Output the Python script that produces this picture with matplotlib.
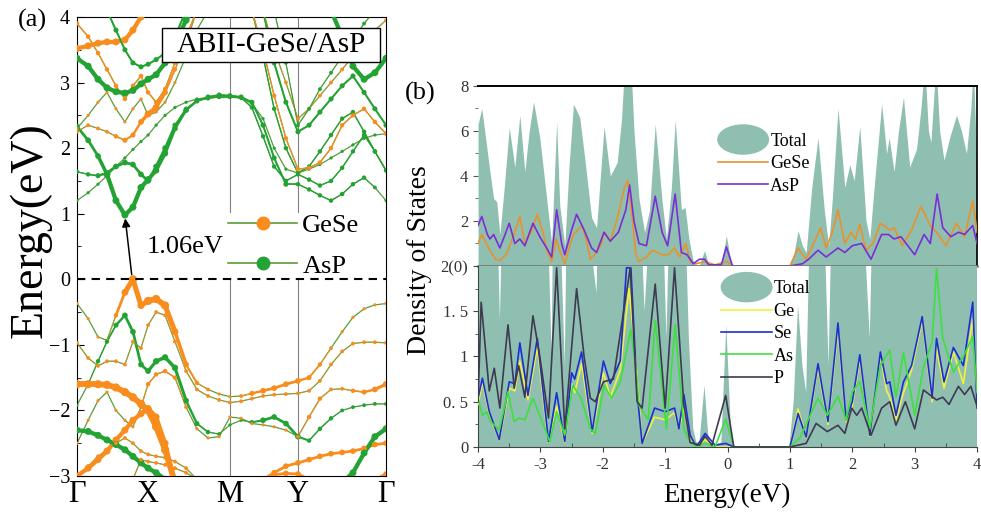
import numpy as np
import matplotlib
matplotlib.use("Agg")
import matplotlib.pyplot as plt
import matplotlib.patches as mpatches
from matplotlib.lines import Line2D
from matplotlib.collections import LineCollection
from matplotlib.legend_handler import HandlerPatch

plt.rcParams['font.family'] = ['Liberation Serif', 'DejaVu Serif']

# -----------------------------
# 1. BAND STRUCTURE DATA (k along G-X-M-Y-G, fraction of path)
# -----------------------------
K = [0.000, 0.036, 0.068, 0.097, 0.126, 0.155, 0.181, 0.207, 0.230, 0.256, 0.285,
     0.317, 0.353, 0.388, 0.424, 0.460, 0.495, 0.531, 0.566, 0.602, 0.638, 0.676,
     0.715, 0.751, 0.786, 0.822, 0.858, 0.893, 0.929, 0.964, 1.000]
K_TICKS = [0.0, 0.227, 0.495, 0.715, 1.0]
K_LABELS = ["Γ", "X", "M", "Y", "Γ"]
N = None

# valence bands
V1 = [-0.37, -0.6, -0.88, -0.93, -0.55, -0.2, 0.0, -0.4, -0.33, -0.3, -0.4, -0.8, -1.3, -1.58, -1.68,
      -1.75, -1.79, -1.78, -1.74, -1.7, -1.66, -1.6, -1.55, -1.5, -1.3, -1.05, -0.8, -0.58, -0.45, -0.39, -0.37]
W_V1 = [1, 1, 1, 1, 2, 4, 5, 4, 5, 5, 5, 4, 3, 2, 1.5, 1, 1, 1.5, 2.5, 3, 3, 3, 3, 2.5, 2, 1.5, 1, 1, 1, 1, 1]
V2 = [-1.92, -1.6, -1.25, -0.95, -0.7, -0.55, -0.8, -1.3, -1.4, -1.25, -1.19, -1.35, -1.85, -2.2, -2.33,
      -2.36, -2.22, -2.15, -2.18, -2.15, -2.1, -2.2, -2.4, -2.46, -2.28, -2.12, -2.0, -1.95, -1.92, -1.9, -1.9]
W_V2 = [1, 1.5, 2, 2, 2.5, 3, 3, 3, 3, 3.5, 3.5, 3.5, 3, 2.5, 2, 1.5, 1, 1, 2, 3, 3, 3, 3, 2, 2, 2, 1.5, 1.5, 1.5, 1.5, 1.5]
V3 = [-0.97, -1.2, -1.32, -1.25, -1.25, -1.3, -0.95, -1.05, -0.7, -0.5, -0.55, -0.95, -1.4, -1.68, -1.78,
      -1.84, -1.88, -1.86, -1.82, -1.78, -1.76, -1.75, -1.74, -1.7, -1.55, -1.3, -1.1, -0.98, -0.96, -0.96, -0.97]
V4 = [-2.5, -2.15, -1.85, -1.72, -2.0, -2.15, -2.25, -1.95, -1.6, -1.45, -1.4, -1.5, -1.95, -2.28, -2.42,
      -2.4, -2.1, -2.12, -2.2, -2.22, -2.25, -2.3, -2.4, -2.1, -1.82, -1.68, -1.67, -1.7, -1.72, -1.68, -1.6]
W_V4 = [1, 1, 1, 1, 1, 1, 1, 1.5, 2, 2, 2, 2, 1.5, 1, 1, 1, 1, 1, 1, 1, 1, 1, 1.5, 2, 2, 1.5, 1.5, 2, 2.5, 3, 3.5]
V5 = [-1.6, -1.6, -1.6, -1.61, -1.65, -1.72, -1.8, -1.9, -2.0, -2.25, -2.6, -3.1]
V6 = [-3.0, -2.88, -2.75, -2.62, -2.45, -2.3, -2.15, -2.05, -1.97, -2.1, -2.5, -3.1]
V7 = [-2.3, -2.32, -2.38, -2.45, -2.52, -2.6, -2.7, -2.8, -2.88, -2.95, -3.05]
V8 = [-3.05, -2.85, -2.7, -2.6, -2.5, -2.42, -2.5, -2.62, -2.67, -2.7, -2.72, -2.78, -2.88, -3.05]
V9 = [N] * 6 + [-3.05, -2.75, -2.78, -2.8, -2.83, -2.88, -2.95, -3.05]
V10 = [N] * 19 + [-3.05, -2.95, -2.85, -2.8, -2.75, -2.7, -2.66, -2.64, -2.62, -2.58, -2.52, -2.5]
V11 = [N] * 19 + [-3.05, -2.98, -2.96, -2.97, -3.05]
V12 = [N] * 29 + [-3.05, -2.97]
V13 = [N] * 26 + [-3.1, -2.95, -2.65, -2.4, -2.28]

# conduction bands
C1 = [2.33, 2.12, 1.88, 1.6, 1.2, 0.98, 1.1, 1.4, 1.52, 1.66, 1.92, 2.3, 2.58, 2.72, 2.78, 2.81,
      2.8, 2.78, 2.7, 2.35, 1.85, 1.45, 1.45, 1.37, 1.28, 1.2, 1.3, 1.45, 1.55, 1.4, 1.2]
W_C1 = [3, 3, 3, 4, 4, 4, 4, 4, 4, 3.5, 3.5, 3, 3, 2.5, 2.5, 2.5, 2.5, 2.5, 2.5, 2.5, 2.5, 2.5,
        2, 2, 2, 2, 2, 2, 2, 1.5, 1]
C2 = [1.64, 1.6, 1.58, 1.62, 1.72, 1.78, 1.75, 1.6, 1.5, 1.72, 2.0, 2.35, 2.6, 2.72, 2.76, 2.78,
      2.78, 2.77, 2.62, 2.18, 1.72, 1.5, 1.6, 1.52, 1.43, 1.5, 1.7, 1.95, 2.2, 1.95, 1.66]
W_C2 = [2, 2, 2.5, 3, 3, 3, 3, 3, 3, 3, 3, 2.5, 2, 2, 2, 2, 2, 2, 2, 2, 2, 2, 2, 2, 2, 2, 2, 2, 2, 2, 1.5]
C3 = [1.2, 1.32, 1.45, 1.58, 1.72, 1.85, 1.98, 2.1, 2.2, 2.35, 2.5, 2.62, 2.7, 2.75, 2.77, 2.79,
      2.78, 2.76, 2.68, 2.45, 2.0, 1.68, 1.62, 1.68, 1.75, 1.85, 1.95, 2.05, 2.15, 2.2, 2.22]
C4 = [2.25, 2.35, 2.3, 2.25, 2.18, 2.12, 2.2, 2.4, 2.52, 2.62, 2.85, 3.2, 3.6, 4.1]
W_C4 = [1.5, 1.5, 1.5, 1.5, 2, 2.5, 2.5, 3, 4, 4, 3, 2, 1.5, 1.5]
C5 = [3.9, 3.7, 3.45, 3.2, 2.95, 2.75, 2.95, 3.1, 2.85, 2.7, 2.9, 3.3, 3.7, 4.1]
C6 = [2.3, 2.5, 2.7, 2.85, 2.6, 2.4, 2.6, 2.75, 2.5, 2.55, 2.7, 3.0, 3.4, 3.8, 4.1]
C7 = [3.37, 3.25, 3.05, 2.92, 2.86, 2.84, 2.88, 2.98, 3.05, 3.12, 3.3, 3.6, 3.95, 4.2]
C8 = [3.52, 3.56, 3.6, 3.62, 3.62, 3.65, 3.8, 4.0, 4.1]
C9 = [N, N, N, 4.1, 3.8, 3.5, 3.3, 3.24, 3.28, 3.35, 3.45, 3.7, 4.1]
R1 = [N] * 18 + [4.1, 3.4, 2.6, 2.0, 1.62, 1.72, 1.95, 2.2, 2.45, 2.55, 2.25, 1.95, 1.66]
R2 = [N] * 18 + [4.1, 3.5, 2.8, 2.15, 1.68, 1.7, 1.78, 2.0, 2.35, 2.5, 2.6, 2.4, 2.22]
R3 = [N] * 19 + [4.1, 3.3, 2.7, 2.25, 2.35, 2.55, 2.75, 2.95, 3.1, 2.85, 2.6, 2.35]
R4 = [N] * 19 + [4.1, 3.5, 3.0, 2.45, 2.6, 2.8, 3.0, 3.2, 3.4, 3.6, 3.8, 3.95]
R5 = [N] * 20 + [4.1, 3.3, 2.35, 2.6, 2.9, 3.15, 3.4, 3.65, 3.9, 4.1]
R6 = [N] * 25 + [4.1, 3.7, 3.25, 3.05, 3.15, 3.37]

# (values, projection: 'o' = GeSe / 'g' = AsP, weight)
BANDS = [
    (V1, 'o', W_V1), (V2, 'g', W_V2), (V3, 'o', 1.5), (V4, 'o', W_V4), (V5, 'o', 5),
    (V6, 'o', 4), (V7, 'g', 4), (V8, 'o', 1.5), (V9, 'o', 1.5), (V10, 'o', 3),
    (V11, 'o', 3), (V12, 'o', 3), (V13, 'g', 4),
    (C1, 'g', W_C1), (C2, 'g', W_C2), (C3, 'g', 1), (C4, 'o', W_C4), (C5, 'o', 2),
    (C6, 'o', 1), (C7, 'g', 4), (C8, 'o', 4), (C9, 'g', 2.5),
    (R1, 'g', 2), (R2, 'o', 2), (R3, 'g', 2.5), (R4, 'o', 1.5), (R5, 'g', 1.5), (R6, 'g', 4),
]

# -----------------------------
# 2. DOS DATA
# -----------------------------
TOT_E = [-4.0, -3.94, -3.87, -3.81, -3.75, -3.70, -3.65, -3.58, -3.50, -3.41, -3.33, -3.25, -3.18,
         -3.11, -3.01, -2.90, -2.82, -2.74, -2.69, -2.61, -2.54, -2.47, -2.37, -2.29, -2.18, -2.10,
         -1.98, -1.88, -1.77, -1.70, -1.65, -1.55, -1.50, -1.42, -1.33, -1.25, -1.16, -1.05, -0.98,
         -0.90, -0.84, -0.74, -0.68, -0.62, -0.55, -0.50, -0.45, -0.37, -0.30, -0.20, -0.10, -0.02,
         0.06, 0.12, 0.50, 0.99, 1.06, 1.13, 1.20, 1.26, 1.35, 1.45, 1.55, 1.62, 1.68, 1.77, 1.88,
         1.96, 2.03, 2.12, 2.22, 2.28, 2.35, 2.47, 2.55, 2.59, 2.67, 2.74, 2.82, 2.92, 3.03, 3.10,
         3.16, 3.22, 3.26, 3.34, 3.40, 3.47, 3.57, 3.67, 3.75, 3.83, 3.90, 3.94, 4.0]
TOT_V = [6.3, 7.0, 5.5, 4.2, 3.0, 2.85, 1.4, 3.5, 6.15, 4.4, 6.7, 4.2, 6.0,
         7.3, 5.7, 3.0, 1.0, 6.4, 2.7, 0.9, 4.5, 7.2, 6.6, 4.8, 2.15, 1.7,
         6.2, 4.0, 4.6, 6.5, 9.0, 9.0, 6.0, 3.0, 1.5, 2.5, 6.3, 2.9, 1.2,
         3.5, 6.5, 2.5, 2.6, 1.2, 0.2, 0.05, 0.05, 0.68, 0.05, 0.02, 0.05, 1.35,
         0.1, 0.0, 0.0, 0.0, 0.5, 1.57, 0.9, 0.6, 3.5, 5.7, 2.5, 0.9, 3.0, 7.0, 3.5,
         4.5, 3.8, 6.2, 2.0, 1.2, 3.5, 7.2, 5.0, 5.7, 4.2, 6.0, 7.5, 4.4, 5.2, 7.0,
         9.0, 6.0, 5.5, 9.0, 6.0, 4.7, 5.8, 6.7, 6.0, 5.0, 7.0, 9.0, 4.0]

GESE_E = [-4.0, -3.94, -3.85, -3.81, -3.72, -3.65, -3.55, -3.45, -3.33, -3.25, -3.15, -3.05, -2.95,
          -2.9, -2.82, -2.75, -2.68, -2.61, -2.54, -2.47, -2.33, -2.25, -2.2, -2.1, -2.02, -1.98,
          -1.88, -1.78, -1.65, -1.6, -1.52, -1.47, -1.42, -1.3, -1.2, -1.05, -0.95, -0.85, -0.77,
          -0.67, -0.6, -0.5, -0.37, -0.2, -0.02, 0.1, 1.0, 1.13, 1.26, 1.38, 1.49, 1.58, 1.68,
          1.77, 1.88, 1.98, 2.05, 2.12, 2.22, 2.33, 2.45, 2.6, 2.67, 2.8, 2.95, 3.1, 3.25, 3.35,
          3.5, 3.67, 3.8, 3.93, 4.0]
GESE_V = [1.0, 1.4, 0.9, 0.7, 0.3, 0.25, 0.5, 1.2, 2.2, 1.0, 1.5, 2.3, 1.4,
          0.7, 0.2, 1.2, 0.6, 0.1, 0.8, 1.4, 1.8, 1.0, 0.3, 0.6, 1.0, 1.5,
          1.1, 2.0, 3.5, 3.8, 2.0, 0.5, 0.2, 0.4, 0.7, 0.5, 0.5, 0.8, 0.4,
          1.0, 0.2, 0.1, 0.2, 0.05, 0.2, 0.0, 0.0, 0.8, 0.3, 1.0, 1.7, 0.8, 1.5,
          2.5, 1.0, 1.5, 1.2, 1.85, 0.7, 1.0, 1.9, 1.6, 1.7, 0.9, 1.6, 2.65, 1.8, 1.5,
          0.9, 1.9, 1.3, 2.9, 1.5]

ASP_E = [-4.0, -3.94, -3.85, -3.81, -3.75, -3.65, -3.58, -3.5, -3.41, -3.33, -3.25, -3.12, -3.01,
         -2.9, -2.82, -2.74, -2.66, -2.61, -2.5, -2.42, -2.3, -2.18, -2.1, -1.98, -1.88, -1.75,
         -1.63, -1.57, -1.5, -1.42, -1.3, -1.16, -1.05, -0.96, -0.84, -0.74, -0.65, -0.55, -0.45,
         -0.37, -0.3, -0.1, -0.02, 0.08, 1.0, 1.2, 1.3, 1.45, 1.58, 1.77, 1.88, 2.0, 2.15, 2.3,
         2.47, 2.58, 2.67, 2.78, 3.0, 3.15, 3.25, 3.36, 3.45, 3.58, 3.7, 3.8, 3.93, 4.0]
ASP_V = [1.8, 2.2, 1.4, 1.2, 1.4, 0.8, 1.3, 1.9, 1.0, 1.2, 0.9, 1.9, 1.3,
         0.8, 0.4, 2.5, 1.0, 0.5, 1.6, 2.3, 1.6, 0.8, 0.6, 1.5, 1.1, 1.5,
         2.5, 3.6, 2.0, 1.0, 0.9, 3.1, 1.5, 0.9, 3.2, 0.6, 0.5, 0.1, 0.3,
         0.3, 0.05, 0.05, 0.85, 0.0, 0.0, 0.1, 0.3, 0.7, 0.4, 0.8, 0.6, 0.9, 1.0, 0.3,
         1.4, 1.4, 1.2, 1.3, 0.5, 1.4, 1.0, 3.2, 1.7, 1.3, 1.5, 1.4, 1.8, 1.0]

P_E = [-4.0, -3.95, -3.82, -3.74, -3.65, -3.52, -3.42, -3.35, -3.25, -3.12, -3.01, -2.87, -2.74,
       -2.61, -2.42, -2.3, -2.2, -2.12, -1.99, -1.83, -1.56, -1.45, -1.37, -1.16, -1.0, -0.85,
       -0.7, -0.6, -0.45, -0.36, -0.25, -0.03, 0.1, 1.0, 1.26, 1.42, 1.6, 1.77, 1.88, 1.99, 2.07,
       2.15, 2.3, 2.47, 2.6, 2.7, 2.85, 3.0, 3.14, 3.35, 3.45, 3.55, 3.7, 3.8, 3.9, 4.0]
P_V = [0.5, 1.6, 0.62, 0.87, 0.43, 1.35, 0.65, 0.9, 0.55, 1.45, 1.0, 0.32, 1.98,
       0.2, 1.75, 1.0, 0.54, 0.5, 0.72, 0.75, 1.98, 0.5, 0.43, 1.8, 0.43, 1.98,
       0.46, 0.05, 0.02, 0.12, 0.02, 0.57, 0.0, 0.0, 0.04, 0.26, 0.17, 0.24, 0.15, 0.43, 0.35,
       0.43, 0.13, 0.43, 0.5, 0.24, 0.5, 0.2, 0.63, 0.52, 0.55, 0.47, 0.67, 0.58, 0.67, 0.45]

SE_E = [-4.0, -3.93, -3.82, -3.66, -3.5, -3.41, -3.33, -3.2, -3.05, -2.95, -2.87, -2.74, -2.61,
        -2.5, -2.45, -2.34, -2.17, -1.99, -1.88, -1.72, -1.62, -1.55, -1.45, -1.37, -1.17, -1.0,
        -0.85, -0.78, -0.7, -0.6, -0.5, -0.36, -0.2, -0.03, 0.1, 1.0, 1.13, 1.26, 1.45, 1.61,
        1.77, 1.9, 2.0, 2.12, 2.28, 2.45, 2.55, 2.6, 2.7, 2.82, 2.95, 3.12, 3.28, 3.35, 3.47,
        3.62, 3.78, 3.93, 4.0]
SE_V = [0.54, 0.76, 0.39, 0.08, 0.72, 0.7, 1.15, 0.57, 1.2, 0.57, 0.06, 0.6, 0.06,
        0.82, 0.75, 1.05, 0.17, 0.95, 0.7, 0.95, 1.98, 1.98, 0.6, 0.04, 0.43, 0.39,
        0.43, 0.2, 0.58, 0.13, 0.0, 0.15, 0.02, 0.04, 0.0, 0.0, 0.37, 0.11, 0.92, 0.28,
        1.37, 0.3, 0.5, 1.02, 0.13, 1.05, 0.7, 0.72, 0.35, 0.72, 0.9, 1.44, 0.54, 1.2, 0.72,
        1.1, 0.9, 1.6, 0.43]

GE_E = [-4.0, -3.93, -3.82, -3.66, -3.5, -3.41, -3.33, -3.2, -3.05, -2.95, -2.87, -2.74, -2.61,
        -2.5, -2.45, -2.34, -2.17, -1.99, -1.88, -1.72, -1.58, -1.5, -1.42, -1.37, -1.17, -1.0,
        -0.85, -0.78, -0.7, -0.6, -0.5, -0.36, -0.2, 0.1, 1.0, 1.13, 1.26, 1.45, 1.61, 1.77,
        1.9, 2.0, 2.12, 2.28, 2.45, 2.55, 2.6, 2.7, 2.82, 2.95, 3.12, 3.28, 3.35, 3.47, 3.62,
        3.78, 3.93, 4.0]
GE_V = [0.47, 0.72, 0.36, 0.07, 0.65, 0.62, 0.95, 0.52, 1.1, 0.5, 0.05, 0.45, 0.05,
        0.7, 0.6, 0.92, 0.15, 0.82, 0.55, 0.85, 1.75, 1.2, 0.5, 0.04, 0.33, 0.3,
        0.38, 0.2, 0.42, 0.1, 0.0, 0.08, 0.0, 0.0, 0.0, 0.42, 0.1, 0.88, 0.25, 1.3,
        0.28, 0.45, 0.98, 0.12, 1.02, 0.62, 0.55, 0.3, 0.6, 0.85, 1.4, 0.5, 1.1, 0.65, 1.05,
        0.7, 1.42, 0.6]

AS_E = [-4.0, -3.93, -3.86, -3.8, -3.66, -3.52, -3.42, -3.34, -3.25, -3.12, -2.95, -2.85, -2.74,
        -2.61, -2.48, -2.35, -2.2, -2.12, -1.98, -1.86, -1.72, -1.55, -1.47, -1.42, -1.27, -1.16,
        -0.98, -0.84, -0.7, -0.6, -0.5, -0.36, -0.2, -0.03, 0.1, 1.0, 1.16, 1.45, 1.6, 1.77,
        1.9, 2.0, 2.12, 2.28, 2.45, 2.6, 2.7, 2.82, 3.0, 3.14, 3.28, 3.35, 3.45, 3.62, 3.78,
        3.93, 4.0]
AS_V = [0.54, 0.35, 0.39, 0.28, 0.19, 0.61, 0.28, 0.32, 0.3, 0.54, 0.24, 0.06, 0.39,
        0.13, 0.68, 0.54, 0.2, 0.15, 0.68, 0.54, 0.72, 1.3, 0.87, 0.46, 0.3, 1.4,
        0.2, 1.35, 0.2, 0.05, 0.0, 0.04, 0.0, 0.31, 0.0, 0.0, 0.1, 0.54, 0.35, 0.56,
        0.3, 0.61, 0.72, 0.2, 0.9, 1.07, 0.55, 1.04, 0.35, 0.88, 1.16, 1.97, 1.2, 0.83, 1.0,
        1.22, 0.6]

# -----------------------------
# 3. STYLE
# -----------------------------
ORANGE = "#f88c1c"
GREEN = "#22a334"
LINE = "#5a9c3a"
TEAL = "#8fbfb1"


class HandlerEllipse(HandlerPatch):
    def create_artists(self, legend, orig_handle, xdescent, ydescent, width, height, fontsize, trans):
        center = (0.5 * width - 0.5 * xdescent, 0.5 * height - 0.5 * ydescent)
        p = mpatches.Ellipse(xy=center, width=width + xdescent, height=height * 2.3)
        self.update_prop(p, orig_handle, legend)
        p.set_transform(trans)
        return [p]


fig = plt.figure(figsize=(9.81, 5.13), dpi=100)

# -----------------------------
# 4. PANEL (a): BANDS
# -----------------------------
axb = fig.add_axes([0.0785, 0.0721, 0.315, 0.8948])
k_all = np.array(K)
for vals, kind, w in BANDS:
    e = np.array([np.nan if v is None else v for v in vals], float)
    k = k_all[:len(e)]
    ww = np.array(w, float) * np.ones(len(e))
    col = ORANGE if kind == 'o' else GREEN
    axb.plot(k, e, color=LINE, lw=0.9, zorder=2)
    pts = np.column_stack([k, e])
    segs = np.stack([pts[:-1], pts[1:]], axis=1)
    lw = np.clip(0.5 * (ww[:-1] + ww[1:]) - 1.2, 0, None) * 1.1
    ok = np.isfinite(segs).all(axis=(1, 2)) & (lw > 0)
    if ok.any():
        axb.add_collection(LineCollection(segs[ok], linewidths=lw[ok], colors=col,
                                          capstyle='round', zorder=3))
    axb.scatter(k, e, s=(1.4 + 0.9 * ww) ** 2, color=col, lw=0, zorder=4)

axb.axhline(0, color='k', ls=(0, (4, 3)), lw=1.5, zorder=10)
for kv in K_TICKS[2:4]:
    axb.axvline(kv, color='gray', lw=0.8, zorder=1)

axb.set_xlim(0, 1)
axb.set_ylim(-3, 4)
axb.set_xticks(K_TICKS)
axb.set_xticklabels(K_LABELS, fontsize=22)
axb.tick_params(axis='x', length=0, pad=3)
axb.set_yticks(range(-3, 5))
axb.set_yticklabels(['−3', '−2', '−1', '0', '1', '2', '3', '4'], fontsize=14.5)
axb.set_yticks(np.arange(-2.5, 4, 1), minor=True)
axb.tick_params(axis='y', which='both', direction='in', right=False, pad=5)
axb.tick_params(axis='y', which='major', length=5)
axb.tick_params(axis='y', which='minor', length=3)

axb.annotate('', xy=(0.155, 0.97), xytext=(0.178, 0.03),
             arrowprops=dict(arrowstyle='-|>', color='k', lw=1.1, mutation_scale=12), zorder=6)
axb.text(0.227, 0.49, '1.06eV', fontsize=19, ha='left', va='center', zorder=6)

axb.add_patch(mpatches.Rectangle((0.275, 0.902), 0.706, 0.074, transform=axb.transAxes,
                                 fc='white', ec='black', lw=1, zorder=7))
axb.text(0.628, 0.939, 'ABII-GeSe/AsP', transform=axb.transAxes, ha='center', va='center',
         fontsize=21, zorder=8)

h_gese = Line2D([], [], color=LINE, lw=1.2, marker='o', ms=9, mfc=ORANGE, mec=ORANGE)
h_asp = Line2D([], [], color=LINE, lw=1.2, marker='o', ms=9, mfc=GREEN, mec=GREEN)
leg = axb.legend([h_gese, h_asp], ['GeSe', 'AsP'], loc='upper left', bbox_to_anchor=(0.49, 0.572),
                 fontsize=19, handlelength=2.6, labelspacing=0.65, handletextpad=0.2,
                 borderpad=0.0, borderaxespad=0.0, frameon=True, fancybox=False)
leg.get_frame().set_facecolor('white')
leg.get_frame().set_edgecolor('none')
leg.get_frame().set_alpha(1)
leg.set_zorder(9)

fig.text(0.0326, 0.961, '(a)', fontsize=19, ha='center', va='center')
fig.text(0.0306, 0.552, 'Energy(eV)', fontsize=33, rotation=90, ha='center', va='center')

# -----------------------------
# 5. PANEL (b): DOS
# -----------------------------
axu = fig.add_axes([0.4873, 0.4815, 0.5087, 0.3509])
axl = fig.add_axes([0.4873, 0.1287, 0.5087, 0.3528])

for ax in (axu, axl):
    ax.fill_between(TOT_E, 0, TOT_V, color=TEAL, lw=0, zorder=1)
    ax.set_xlim(-4, 4)

axu.plot(GESE_E, GESE_V, color="#e8922c", lw=1.2, zorder=3)
axu.plot(ASP_E, ASP_V, color="#7a2ed6", lw=1.2, zorder=3)
axu.set_ylim(0, 8)
axu.set_yticks([2, 4, 6, 8])
axu.set_yticklabels(['2', '4', '6', '8'], fontsize=12, color='#333333')
axu.set_yticks([1, 3, 5, 7], minor=True)
axu.set_xticks([])
axu.tick_params(axis='y', which='both', direction='out', color='#555555')
axu.tick_params(axis='y', which='minor', length=2.5)
axu.spines['left'].set_visible(False)
axu.spines['top'].set_linewidth(1.4)
axu.spines['right'].set_linewidth(1.2)
axu.spines['bottom'].set_color('#6e6e6e')
axu.spines['bottom'].set_linewidth(1.8)
axu.spines['bottom'].set_zorder(5)

axl.plot(GE_E, GE_V, color="#f2f23c", lw=1.2, zorder=3)
axl.plot(SE_E, SE_V, color="#1c2fd4", lw=1.2, zorder=3)
axl.plot(AS_E, AS_V, color="#3de03d", lw=1.2, zorder=3)
axl.plot(P_E, P_V, color="#3e3a52", lw=1.2, zorder=3)
axl.set_ylim(0, 2)
axl.set_yticks([0, 0.5, 1, 1.5, 2])
axl.set_yticklabels(['0', '0. 5', '1', '1. 5', '2(0)'], fontsize=12, color='#333333')
axl.set_yticks(np.arange(0.25, 2, 0.5), minor=True)
axl.set_xticks(range(-4, 5))
axl.set_xticklabels(['-4', '-3', '-2', '-1', '0', '1', '2', '3', '4'], fontsize=12, color='#333333')
axl.set_xticks(np.arange(-3.5, 4, 1), minor=True)
axl.tick_params(which='both', direction='out', color='#444444')
axl.tick_params(axis='x', which='minor', direction='in', length=3)
axl.tick_params(axis='y', which='minor', length=2.5)
axl.spines['top'].set_visible(False)
axl.spines['right'].set_visible(False)
axl.spines['left'].set_color('#444444')
axl.spines['bottom'].set_color('#444444')

legu = axu.legend([mpatches.Patch(color=TEAL), Line2D([], [], color="#e8922c", lw=1.2),
                   Line2D([], [], color="#7a2ed6", lw=1.2)], ['Total', 'GeSe', 'AsP'],
                  handler_map={mpatches.Patch: HandlerEllipse()}, loc='upper left',
                  bbox_to_anchor=(0.448, 0.83), fontsize=13, frameon=False, handlelength=2.8,
                  handletextpad=0.1, labelspacing=0.3)
legl = axl.legend([mpatches.Patch(color=TEAL), Line2D([], [], color="#f2f23c", lw=1.2),
                   Line2D([], [], color="#1c2fd4", lw=1.2), Line2D([], [], color="#3de03d", lw=1.2),
                   Line2D([], [], color="#3e3a52", lw=1.2)], ['Total', 'Ge', 'Se', 'As', 'P'],
                  handler_map={mpatches.Patch: HandlerEllipse()}, loc='upper left',
                  bbox_to_anchor=(0.455, 1.01), fontsize=13, frameon=False, handlelength=2.8,
                  handletextpad=0.1, labelspacing=0.3)

fig.text(0.428, 0.817, '(b)', fontsize=19, ha='center', va='center')
fig.text(0.428, 0.493, 'Density of States', fontsize=20, rotation=90, ha='center', va='center')
fig.text(0.741, 0.035, 'Energy(eV)', fontsize=19.5, ha='center', va='center')

fig.savefig("out.png", dpi=100)
